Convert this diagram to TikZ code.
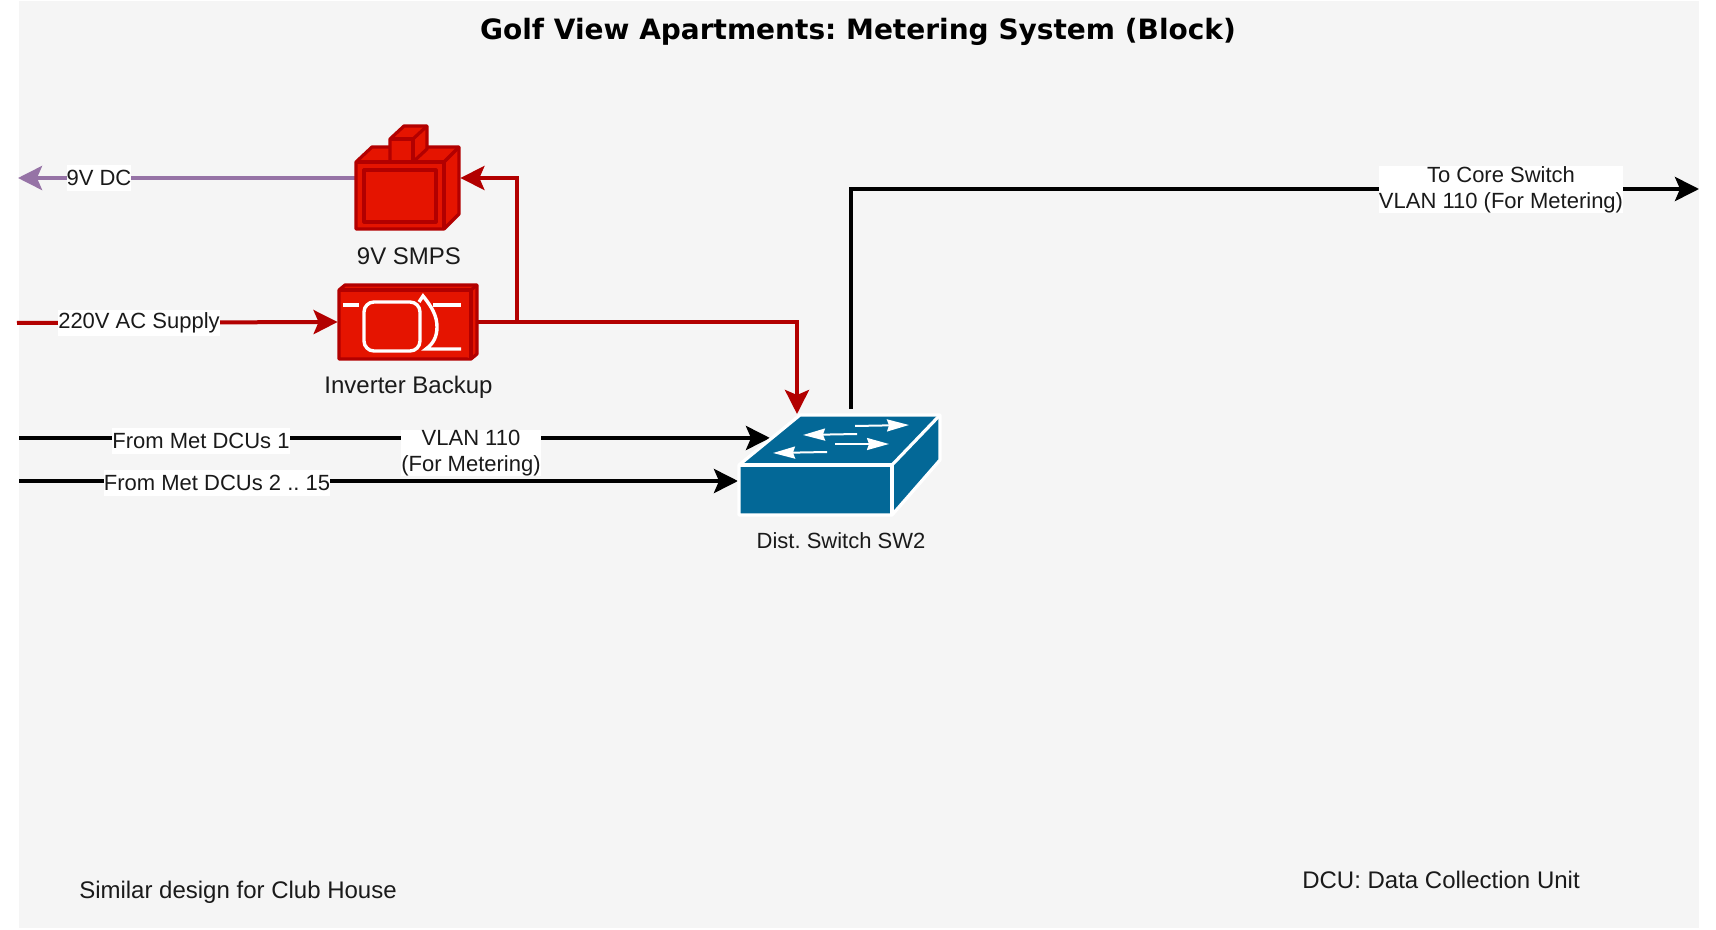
\documentclass[tikz,border=0pt]{standalone}
\usepackage{fontspec}
\setmainfont{Liberation Sans}
\newfontfamily\titlefont{DejaVu Sans}
\usetikzlibrary{arrows.meta}
\definecolor{panelgrey}{HTML}{F5F5F5}
\definecolor{redfill}{HTML}{E51400}
\definecolor{redline}{HTML}{B20000}
\definecolor{bluefill}{HTML}{036897}
\definecolor{purpleline}{HTML}{9673A6}
\definecolor{textgrey}{HTML}{1A1A1A}
\tikzset{
	wire/.style={line width=2pt, -{Stealth[length=12pt,width=12pt,inset=2.5pt]}},
	plainwire/.style={line width=2pt},
	redbody/.style={fill=redfill, draw=redline, line width=1.6pt, line join=round},
	symbol/.style={draw=white, line width=1.7pt},
	flow/.style={white, line width=1pt, -{Stealth[length=11pt,width=6pt,inset=1pt]}},
	lbl/.style={text=textgrey, font=\fontsize{12}{13}\selectfont, inner sep=0pt, align=center},
	tag/.style={lbl, font=\fontsize{11}{13}\selectfont, fill=white, minimum height=13pt}
}
\begin{document}
\begin{tikzpicture}[x=0.5pt,y=-0.5pt]
	\frenchspacing
	\useasboundingbox (0,0) rectangle (1716,930);
	\fill [panelgrey] (19,1) rectangle (1699,928);
	\node [font=\titlefont\bfseries\fontsize{14}{18}\selectfont, inner sep=0pt] (title) at (858,32) {Golf View Apartments: Metering System (Block)};
	% placeholders that the wires attach to
	\node [inner sep=0pt, minimum width=52pt, minimum height=52pt] (smps) at (408,178) {};
	\node [inner sep=0pt, minimum width=70pt, minimum height=38pt] (inverter) at (408,322) {};
	\coordinate (dcleft) at (18,178);
	\coordinate (acleft) at (17,323);
	\coordinate (metone) at (19,438);
	\coordinate (mettwo) at (19,481);
	\coordinate (swone) at (770,438);
	\coordinate (swtwo) at (738,481);
	\coordinate (swpower) at (797,414);
	\coordinate (swup) at (851,409);
	\coordinate (coreright) at (1699,189);
	% wires
	\draw [wire, purpleline] (smps.west) -- (dcleft);
	\draw [wire, redline] (acleft) -- (inverter.west);
	\draw [wire, redline] (inverter.east) -| (517,178) -- (smps.east);
	\draw [wire, redline] (inverter.east) -| (swpower);
	\draw [wire, black] (metone) -- (swone);
	\draw [wire, black] (mettwo) -- (swtwo);
	\draw [plainwire, black] (swup) |- (1500,189);
	\draw [wire, black] (1500,189) -- (coreright);
	% smps
	\draw [redbody] (356,162) -- (372,147) -- (459,147) -- (459,214) -- (444,229) -- (356,229) -- cycle;
	\draw [redbody] (390,162) -- (390,139) -- (404,126) -- (427,126) -- (427,149) -- (413,162) -- cycle;
	\draw [redbody] (390,139) -- (413,139) -- (413,162);
	\draw [redbody] (413,139) -- (427,126);
	\draw [redbody] (356,162) -- (444,162) -- (444,229);
	\draw [redbody] (444,162) -- (459,147);
	\draw [redbody] (364,170) rectangle (436,222);
	% inverter
	\draw [redbody] (339,290) -- (345,285) -- (477,285) -- (477,354) -- (471,359) -- (339,359) -- cycle;
	\draw [redbody] (339,290) -- (471,290) -- (471,359);
	\draw [redbody] (471,290) -- (477,285);
	\draw [symbol] (343,305) -- (359,305);
	\draw [symbol, rounded corners=5pt] (364,302) rectangle (420,351);
	\draw [symbol] (419,302) -- (423,296) .. controls (432,307) and (437,316) .. (437,327) .. controls (437,337) and (433,344) .. (426,349) -- (461,349);
	\draw [symbol] (433,305) -- (461,305);
	% switch
	\draw [fill=bluefill, draw=white, line width=1.6pt, line join=round] (739,465) -- (800,415) -- (940,415) -- (940,460) -- (892,515) -- (739,515) -- cycle;
	\draw [draw=white, line width=1.6pt, line join=round] (739,465) -- (892,465) -- (892,515);
	\draw [draw=white, line width=1.6pt] (892,465) -- (940,415);
	\draw [flow] (855,426) -- (909,425);
	\draw [flow] (857,434) -- (803,435);
	\draw [flow] (835,444) -- (889,444);
	\draw [flow] (827,452) -- (773,453);
	% labels
	\node [tag] (dctag) at (99,178) {9V DC};
	\node [tag] (actag) at (139,323) {220V AC Supply};
	\node [tag] (onetag) at (201,441) {From Met DCUs 1};
	\node [tag] (twotag) at (217,483) {From Met DCUs 2 .. 15};
	\node [tag] (vlantag) at (471,453) {VLAN 110\\(For Metering)};
	\node [tag] (coretag) at (1501,189.5) {To Core Switch\\VLAN 110 (For Metering)};
	\node [lbl] (smpslbl) at (409,256.5) {9V SMPS};
	\node [lbl] (inverterlbl) at (408.5,387.5) {Inverter Backup};
	\node [lbl, font=\fontsize{11}{13}\selectfont] (switchlbl) at (841,540.5) {Dist. Switch SW2};
	\node [lbl] (clublbl) at (238,892) {Similar design for Club House};
	\node [lbl] (dculbl) at (1441,880) {DCU: Data Collection Unit};
\end{tikzpicture}
\end{document}
